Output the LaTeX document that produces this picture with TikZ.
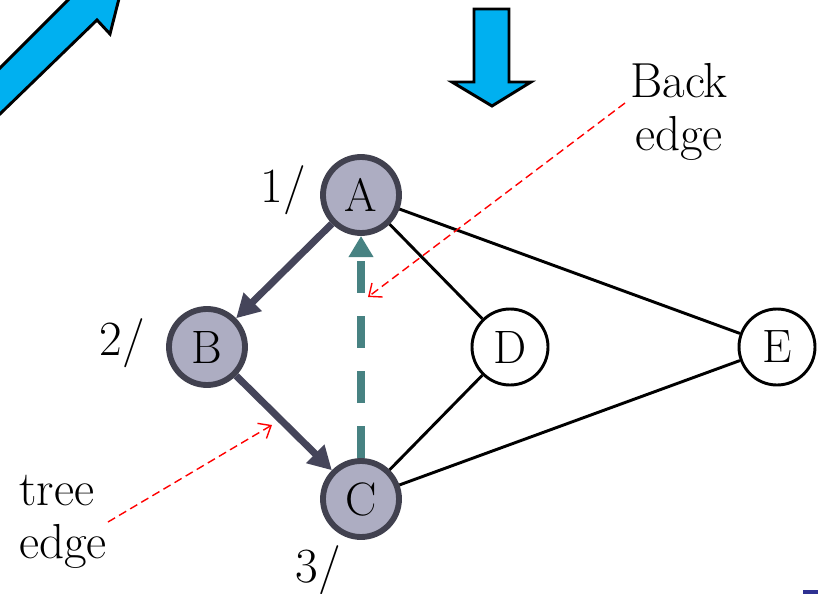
\documentclass[tikz,border=0pt]{standalone}
\usepackage{fontspec}
\usetikzlibrary{arrows.meta}

\definecolor{vtxfill}{HTML}{ADADC2}
\definecolor{vtxline}{HTML}{41414F}
\definecolor{treecol}{HTML}{45455A}
\definecolor{backcol}{HTML}{478282}
\definecolor{skyblue}{HTML}{00B0F0}
\definecolor{navyblk}{HTML}{2E3192}

\tikzset{
  visited/.style={circle, minimum size=2.28cm, inner sep=0pt, draw=vtxline,
    line width=5pt, fill=vtxfill, font=\fontsize{40}{44}\selectfont},
  fresh/.style={circle, minimum size=2.28cm, inner sep=0pt, draw=black,
    line width=2.5pt, fill=white, font=\fontsize{40}{44}\selectfont},
  treeedge/.style={treecol, line width=6pt, -{Triangle[length=20pt,width=21pt]}},
  backedge/.style={backcol, line width=6pt, dash pattern=on 27pt off 20pt,
    -{Triangle[length=18pt,width=20pt]}},
  plainedge/.style={line width=2.5pt},
  note/.style={red, line width=1.2pt, dash pattern=on 7pt off 4pt,
    -{Straight Barb[length=9pt,width=15pt]}},
  bigarrow/.style={draw=black, line width=2.5pt, fill=skyblue, line join=miter},
  lbl/.style={font=\fontsize{42}{45}\selectfont}
}

\begin{document}
\begin{tikzpicture}[x=0.03cm, y=-0.03cm]
  \useasboundingbox (0,0) rectangle (818,594);
  \clip (0,0) rectangle (818,594);

  % Blue arrows
  \draw[bigarrow] (-30,143) -- (97,20) -- (110,34) -- (125,-25) -- (93,-25) -- (-30,98) -- cycle;
  \draw[bigarrow] (474,9) -- (509,9) -- (509,82) -- (531,82) -- (492,106) -- (452,82) -- (474,82) -- cycle;
  \fill[navyblk] (803,590) rectangle (818,594);

  % Vertices
  \node[visited] (A) at (361,195) {A};
  \node[visited] (B) at (207,347) {B};
  \node[visited] (C) at (361,499) {C};
  \node[fresh] (D) at (510,347) {D};
  \node[fresh] (E) at (777,347) {E};

  % Discovery times
  \node[lbl] (tA) at (283,190) {1/};
  \node[lbl] (tB) at (122,343) {2/};
  \node[lbl] (tC) at (318,570) {3/};

  % Edges
  \draw[plainedge] (A) -- (D);
  \draw[plainedge] (A) -- (E);
  \draw[plainedge] (C) -- (D);
  \draw[plainedge] (C) -- (E);
  \draw[treeedge] (A) -- (B);
  \draw[treeedge] (B) -- (C);
  \draw[backedge] (C) -- (A);

  % Notes
  \node[lbl, align=center] (backlbl) at (679,112) {Back\\edge};
  \node[lbl, align=left, anchor=west, inner sep=0pt] (treelbl) at (19,522) {tree\\edge};
  \coordinate (bfrom) at (625,103);
  \coordinate (bto) at (368,297);
  \coordinate (tfrom) at (108,522);
  \coordinate (tto) at (272,425);
  \draw[note] (bfrom) -- (bto);
  \draw[note] (tfrom) -- (tto);
\end{tikzpicture}
\end{document}
